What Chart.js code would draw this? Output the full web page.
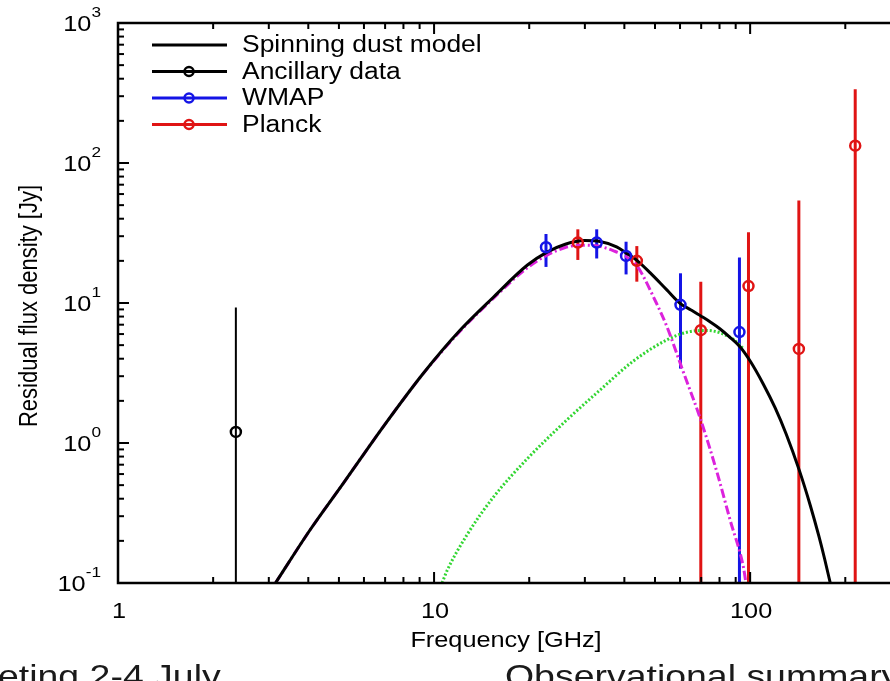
<!DOCTYPE html>
<html>
<head>
<meta charset="utf-8">
<script src="https://cdn.jsdelivr.net/npm/chart.js@4.4.1/dist/chart.umd.min.js"></script>
<style>
  html, body { margin: 0; padding: 0; background: #fff; overflow: hidden; }
  #wrap { position: relative; width: 890px; height: 681px; overflow: hidden; }
  #chart { display: block; }
  .footer { position: absolute; top: 656px; font-family: 'Liberation Sans', Arial, sans-serif; font-size: 32px; line-height: 40px; color: #1a1a1a; white-space: nowrap; transform-origin: left top; transform: scaleX(1.17); }
</style>
</head>
<body>
<div id="wrap">
  <canvas id="chart" width="890" height="681"></canvas>
  <div class="footer" style="left:-2px">eting 2-4 July</div>
  <div class="footer" style="left:505px">Observational summary</div>
</div>
<script>
// axis ticks + labels
const freqTicks = [1, 10, 100];
const freqLabels = ['1', '10', '100'];
const fluxTicks = [0.1, 1, 10, 100, 1000];
const fluxExp = ['-1', '0', '1', '2', '3'];

// spinning dust model (black)
const modelFreq = [3.15, 4.05, 5.16, 6.91, 9.25, 12.1, 15.4, 19.7, 22.7, 26, 30, 33.5, 37.8, 40.5, 44, 48.3, 54.5, 60, 65, 70, 75, 80, 86, 93, 100, 110, 120, 130, 143, 155, 165, 172, 180];
const modelFlux = [0.1, 0.239, 0.515, 1.31, 3.15, 6.41, 11.0, 18.6, 23.0, 26.3, 27.9, 27.5, 25.2, 22.8, 20.0, 16.4, 12.4, 9.95, 8.92, 8.05, 7.29, 6.58, 5.73, 4.85, 3.85, 2.64, 1.78, 1.16, 0.64, 0.358, 0.216, 0.149, 0.096];

// spinning component (magenta dash-dot)
const spinFreq = [3.15, 4.05, 5.16, 6.91, 9.25, 12.1, 15.4, 19.7, 22.7, 26, 29, 33, 37, 40.7, 44, 46, 49.4, 54.5, 61.5, 69.5, 78.5, 86.5, 95.2, 97];
const spinFlux = [0.1, 0.239, 0.515, 1.31, 3.14, 6.3, 10.8, 17.8, 21.9, 24.9, 25.9, 25.5, 23.6, 21.3, 18.2, 15.4, 11.1, 6.8, 3.2, 1.5, 0.62, 0.28, 0.13, 0.1];

// second component (green dotted)
const greenFreq = [10.6, 11, 12.7, 15.4, 19.7, 26.3, 33.5, 42.7, 54.5, 63, 73, 80, 88.5, 95];
const greenFlux = [0.1, 0.123, 0.22, 0.41, 0.77, 1.46, 2.39, 3.85, 5.45, 6.18, 6.37, 6.14, 5.5, 4.75];

// ancillary data
const ancFreq = [2.36];
const ancFlux = [1.2];
const ancLow = [0.01];
const ancHigh = [9.3];

// WMAP
const wmapFreq = [22.6, 32.7, 40.5, 60.2, 92.5];
const wmapFlux = [25.0, 27.0, 21.7, 9.7, 6.2];
const wmapLow = [18.1, 20.8, 16.0, 3.4, 0.01];
const wmapHigh = [31.1, 33.6, 27.4, 16.3, 21.1];

// Planck
const planckFreq = [28.5, 43.8, 69.8, 98.8, 142.6, 215];
const planckFlux = [27.0, 20.0, 6.4, 13.2, 4.7, 133];
const planckLow = [20.3, 14.2, 0.01, 0.01, 0.01, 0.01];
const planckHigh = [33.6, 25.5, 14.2, 32.0, 54, 336];

document.addEventListener('DOMContentLoaded', function() {

    const FONT = '"Liberation Sans", Arial, Helvetica, sans-serif';
    const SX = 1.15; // text in the picture looks a bit wide

    const toXY = (xs, ys) => xs.map((x, i) => ({ x: x, y: ys[i] }));

    // write text slightly stretched sideways
    function stretchText(ctx, txt, x, y, size, align) {
        ctx.save();
        ctx.font = size + 'px ' + FONT;
        ctx.fillStyle = '#000';
        ctx.textAlign = align || 'left';
        ctx.textBaseline = 'middle';
        ctx.translate(x, y);
        ctx.scale(SX, 1);
        ctx.fillText(txt, 0, 0);
        ctx.restore();
    }

    function textWidth(ctx, txt, size) {
        ctx.save();
        ctx.font = size + 'px ' + FONT;
        const w = ctx.measureText(txt).width * SX;
        ctx.restore();
        return w;
    }

    // error bars from the low/high arrays
    const errorBars = {
        id: 'errorBars',
        beforeDatasetsDraw(chart) {
            const { ctx, chartArea: a, scales: { x, y } } = chart;
            const sets = [
                { f: ancFreq, lo: ancLow, hi: ancHigh, color: '#000', w: 2 },
                { f: wmapFreq, lo: wmapLow, hi: wmapHigh, color: '#1414e6', w: 3 },
                { f: planckFreq, lo: planckLow, hi: planckHigh, color: '#e01414', w: 3 }
            ];
            ctx.save();
            ctx.beginPath();
            ctx.rect(a.left, a.top, a.right - a.left, a.bottom - a.top);
            ctx.clip();
            sets.forEach(s => {
                ctx.strokeStyle = s.color;
                ctx.lineWidth = s.w;
                s.f.forEach((f, i) => {
                    const px = x.getPixelForValue(f);
                    ctx.beginPath();
                    ctx.moveTo(px, y.getPixelForValue(s.lo[i]));
                    ctx.lineTo(px, y.getPixelForValue(s.hi[i]));
                    ctx.stroke();
                });
            });
            ctx.restore();
        }
    };

    // gnuplot style frame: inward ticks, labels, titles, legend
    // (the picture is cut on the right, so no right edge)
    const frame = {
        id: 'frame',
        afterDraw(chart) {
            const { ctx, chartArea: a, scales: { x, y } } = chart;
            ctx.save();
            ctx.strokeStyle = '#000';

            // ticks on bottom, top and left
            ctx.lineWidth = 2;
            const isMajor = v => Math.abs(Math.log10(v) - Math.round(Math.log10(v))) < 1e-6;
            const isStep = v => {
                const m = v / Math.pow(10, Math.floor(Math.log10(v) + 1e-9));
                return Math.abs(m - Math.round(m)) < 1e-6;
            };
            x.ticks.forEach(t => {
                if (!isStep(t.value)) return;
                const px = x.getPixelForValue(t.value);
                const len = isMajor(t.value) ? 11 : 6;
                ctx.beginPath();
                ctx.moveTo(px, a.bottom); ctx.lineTo(px, a.bottom - len);
                ctx.moveTo(px, a.top); ctx.lineTo(px, a.top + len);
                ctx.stroke();
            });
            y.ticks.forEach(t => {
                if (!isStep(t.value)) return;
                const py = y.getPixelForValue(t.value);
                const len = isMajor(t.value) ? 11 : 6;
                ctx.beginPath();
                ctx.moveTo(a.left, py); ctx.lineTo(a.left + len, py);
                ctx.stroke();
            });

            // axis lines
            ctx.lineWidth = 2.5;
            ctx.beginPath();
            ctx.moveTo(a.right + 2, a.top);
            ctx.lineTo(a.left, a.top);
            ctx.lineTo(a.left, a.bottom);
            ctx.lineTo(a.right + 2, a.bottom);
            ctx.stroke();
            ctx.restore();

            // x tick labels
            freqTicks.forEach((v, i) => {
                stretchText(ctx, freqLabels[i], x.getPixelForValue(v) + 1, a.bottom + 29, 22, 'center');
            });

            // y tick labels as 10^n
            fluxTicks.forEach((v, i) => {
                const py = y.getPixelForValue(v);
                const supW = textWidth(ctx, fluxExp[i], 15);
                const right = 101;
                stretchText(ctx, '10', right - supW, py + 2, 22, 'right');
                stretchText(ctx, fluxExp[i], right - supW, py - 10, 15, 'left');
            });

            // axis titles
            stretchText(ctx, 'Frequency [GHz]', 506, 641, 22, 'center');
            ctx.save();
            ctx.font = '22px ' + FONT;
            ctx.fillStyle = '#000';
            ctx.textAlign = 'center';
            ctx.textBaseline = 'middle';
            ctx.translate(30, (a.top + a.bottom) / 2 + 3);
            ctx.rotate(-Math.PI / 2);
            ctx.scale(1, SX);
            ctx.fillText('Residual flux density [Jy]', 0, 0);
            ctx.restore();

            // legend
            const entries = [0, 3, 4, 5].map(k => chart.data.datasets[k]);
            entries.forEach((ds, i) => {
                const ry = 45 + i * 26.5;
                ctx.save();
                ctx.strokeStyle = ds.borderColor;
                ctx.lineWidth = 3;
                ctx.beginPath();
                ctx.moveTo(152, ry); ctx.lineTo(227, ry);
                ctx.stroke();
                if (ds.pointRadius > 0) {
                    ctx.lineWidth = 2.5;
                    ctx.beginPath();
                    ctx.arc(189, ry, 4.5, 0, Math.PI * 2);
                    ctx.stroke();
                }
                ctx.restore();
                stretchText(ctx, ds.label, 242, ry + 1, 23, 'left');
            });
        }
    };

    const ctx = document.getElementById('chart').getContext('2d');

    new Chart(ctx, {
        type: 'scatter',
        data: {
            datasets: [
                { label: 'Spinning dust model', data: toXY(modelFreq, modelFlux), showLine: true, borderColor: '#000', borderWidth: 3, pointRadius: 0, cubicInterpolationMode: 'monotone', order: 1 },
                { label: 'Spinning dust', data: toXY(spinFreq, spinFlux), showLine: true, borderColor: '#dc22dc', borderWidth: 3, borderDash: [9, 3, 2, 3], pointRadius: 0, cubicInterpolationMode: 'monotone', order: 2 },
                { label: 'Other component', data: toXY(greenFreq, greenFlux), showLine: true, borderColor: '#33d633', borderWidth: 3, borderDash: [2, 2], pointRadius: 0, cubicInterpolationMode: 'monotone', order: 3 },
                { label: 'Ancillary data', data: toXY(ancFreq, ancFlux), showLine: false, borderColor: '#000', pointRadius: 5, pointBorderWidth: 2.5, pointBorderColor: '#000', pointBackgroundColor: 'rgba(0,0,0,0)', order: 0 },
                { label: 'WMAP', data: toXY(wmapFreq, wmapFlux), showLine: false, borderColor: '#1414e6', pointRadius: 5, pointBorderWidth: 2.5, pointBorderColor: '#1414e6', pointBackgroundColor: 'rgba(0,0,0,0)', order: 0 },
                { label: 'Planck', data: toXY(planckFreq, planckFlux), showLine: false, borderColor: '#e01414', pointRadius: 5, pointBorderWidth: 2.5, pointBorderColor: '#e01414', pointBackgroundColor: 'rgba(0,0,0,0)', order: 0 }
            ]
        },
        options: {
            responsive: false,
            animation: false,
            layout: { autoPadding: false, padding: { top: 23, right: 0, bottom: 0, left: 0 } },
            plugins: { legend: { display: false }, tooltip: { enabled: false } },
            scales: {
                x: {
                    type: 'logarithmic', min: 1, max: 277,
                    grid: { display: false, drawTicks: false }, border: { display: false },
                    ticks: { display: false, autoSkip: false },
                    afterFit: s => { s.height = 98; s.paddingLeft = 0; s.paddingRight = 0; }
                },
                y: {
                    type: 'logarithmic', min: 0.1, max: 1000,
                    grid: { display: false, drawTicks: false }, border: { display: false },
                    ticks: { display: false, autoSkip: false },
                    afterFit: s => { s.width = 118; s.paddingTop = 0; s.paddingBottom = 0; }
                }
            }
        },
        plugins: [errorBars, frame]
    });

});
</script>
</body>
</html>
